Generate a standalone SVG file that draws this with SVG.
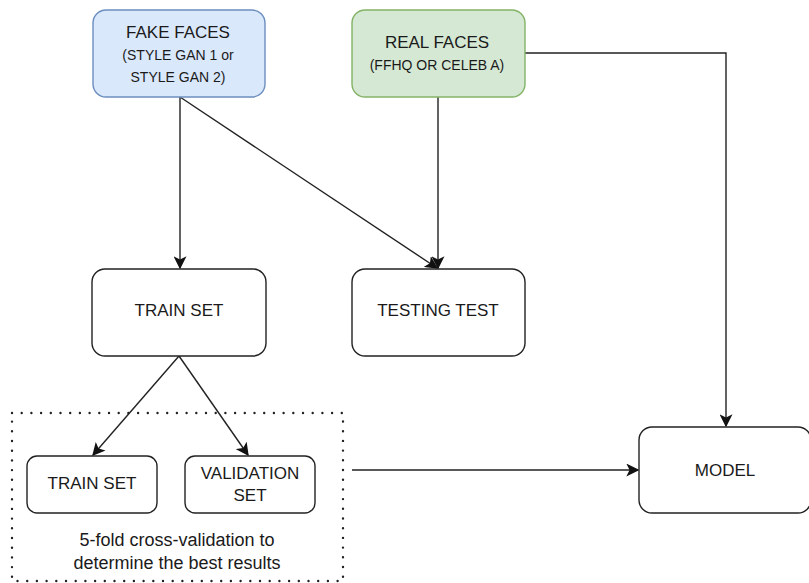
<svg xmlns="http://www.w3.org/2000/svg" width="809" height="583" viewBox="0 0 809 583">
<style>
.n{fill:#fff;stroke:#222;stroke-width:1.4}
.t{font-family:"Liberation Sans",Arial,sans-serif;fill:#1a1a1a;text-anchor:middle}
.c{fill:none;stroke:#222;stroke-width:1.4}
</style>
<defs>
<marker id="a" viewBox="0 0 10 10" refX="9" refY="5" markerWidth="13" markerHeight="13" markerUnits="userSpaceOnUse" orient="auto">
<path d="M0,0 L10,5 L0,10 L2.5,5 Z" fill="#111"/>
</marker>
</defs>
<g id="connectors">
<path class="c" d="M180,97 V268" marker-end="url(#a)"/>
<path class="c" d="M180,97 L437,268" marker-end="url(#a)"/>
<path class="c" d="M438,97 V268" marker-end="url(#a)"/>
<path class="c" d="M525,53 H726 V426" marker-end="url(#a)"/>
<path class="c" d="M179,356 L93,455" marker-end="url(#a)"/>
<path class="c" d="M179,356 L248,455" marker-end="url(#a)"/>
<path class="c" d="M352,470 H638" marker-end="url(#a)"/>
</g>
<g id="fake-faces">
<rect x="93" y="10" width="172" height="87" rx="13" fill="#dae8fc" stroke="#6c8ebf" stroke-width="1.4"/>
<text class="t" x="178" y="38" font-size="17">FAKE FACES</text>
<text class="t" x="178" y="60" font-size="14">(STYLE GAN 1 or</text>
<text class="t" x="178" y="82" font-size="14">STYLE GAN 2)</text>
</g>
<g id="real-faces">
<rect x="352" y="10" width="173" height="87" rx="13" fill="#d5e8d4" stroke="#82b366" stroke-width="1.4"/>
<text class="t" x="437" y="48" font-size="17">REAL FACES</text>
<text class="t" x="437" y="70" font-size="14">(FFHQ OR CELEB A)</text>
</g>
<g id="train-set">
<rect class="n" x="92" y="269" width="174" height="87" rx="13"/>
<text class="t" x="179" y="316" font-size="17">TRAIN SET</text>
</g>
<g id="testing-test">
<rect class="n" x="352" y="269" width="173" height="87" rx="13"/>
<text class="t" x="438" y="316" font-size="17">TESTING TEST</text>
</g>
<g id="cv-group">
<rect x="12" y="413" width="331" height="168" fill="none" stroke="#222" stroke-width="2.4" stroke-linecap="round" stroke-dasharray="0 9.7"/>
<text class="t" x="177" y="546" font-size="18">5-fold cross-validation to</text>
<text class="t" x="177" y="569" font-size="18">determine the best results</text>
</g>
<g id="train-set-small">
<rect class="n" x="27" y="456" width="130" height="57" rx="10"/>
<text class="t" x="92" y="489" font-size="17">TRAIN SET</text>
</g>
<g id="validation-set">
<rect class="n" x="185" y="456" width="130" height="57" rx="10"/>
<text class="t" x="250" y="479" font-size="17">VALIDATION</text>
<text class="t" x="250" y="501" font-size="17">SET</text>
</g>
<g id="model">
<rect class="n" x="639" y="427" width="172" height="86" rx="13"/>
<text class="t" x="725" y="476" font-size="17">MODEL</text>
</g>
</svg>
